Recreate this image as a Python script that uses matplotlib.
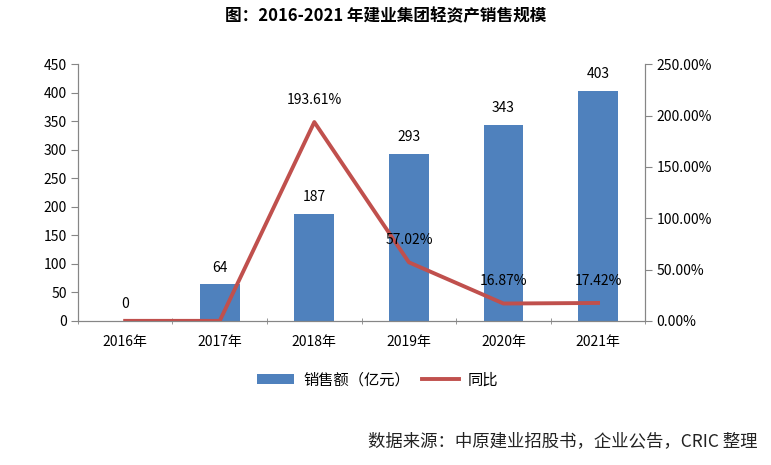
import matplotlib
matplotlib.use("Agg")
import matplotlib.pyplot as plt
from matplotlib.ticker import FixedLocator, FuncFormatter

plt.rcParams['font.family'] = ['Noto Sans CJK SC', 'DejaVu Sans']

# data
years = ["2016年", "2017年", "2018年", "2019年", "2020年", "2021年"]
sales = [0, 64, 187, 293, 343, 403]            # 亿元
yoy = [0.0, 0.0, 193.61, 57.02, 16.87, 17.42]   # %

BAR_COLOR = "#4F81BD"
LINE_COLOR = "#C0504D"
AXIS_COLOR = "#868686"

fig = plt.figure(figsize=(7.71, 4.65), dpi=100)
ax = fig.add_axes([0.101, 0.310, 0.736, 0.552])
ax2 = ax.twinx()

x = list(range(len(years)))
bars = ax.bar(x, sales, width=0.42, color=BAR_COLOR, label="销售额（亿元）", zorder=2)
line, = ax2.plot(x, yoy, color=LINE_COLOR, lw=2.8, label="同比", zorder=3)

# labels
for xi, v in zip(x, sales):
    ax.annotate(f"{v}", (xi, v), xytext=(0, 7), textcoords="offset points",
                ha="center", va="bottom", fontsize=10)
for xi, v in zip(x[2:], yoy[2:]):
    ax2.annotate(f"{v:.2f}%", (xi, v), xytext=(0, 11), textcoords="offset points",
                 ha="center", va="bottom", fontsize=10)

# axes
ax.set_xlim(-0.5, len(years) - 0.5)
ax.set_ylim(0, 450)
ax.set_yticks(range(0, 451, 50))
ax2.set_ylim(0, 250)
ax2.set_yticks(range(0, 251, 50))
ax2.yaxis.set_major_formatter(FuncFormatter(lambda v, p: f"{v:.2f}%"))

ax.set_xticks(x)
ax.set_xticklabels(years)
ax.xaxis.set_minor_locator(FixedLocator([i - 0.5 for i in range(len(years) + 1)]))
ax.tick_params(axis="x", which="major", length=0, pad=10, labelsize=10)
ax.tick_params(axis="x", which="minor", length=4, direction="inout", color=AXIS_COLOR)
ax.tick_params(axis="y", length=5, color=AXIS_COLOR, labelsize=10, pad=3)
ax2.tick_params(axis="y", length=5, color=AXIS_COLOR, labelsize=10, pad=3)

for a in (ax, ax2):
    a.spines["top"].set_visible(False)
    for s in ("left", "right", "bottom"):
        a.spines[s].set_color(AXIS_COLOR)
ax.set_zorder(ax2.get_zorder() - 1)
ax2.patch.set_visible(False)
ax.patch.set_visible(False)

fig.legend([bars, line], ["销售额（亿元）", "同比"], loc="center",
           bbox_to_anchor=(0.49, 0.183), ncol=2, frameon=False, fontsize=11,
           handlelength=2.4, handleheight=0.7, handletextpad=0.6, columnspacing=0.8)

fig.text(0.5, 0.965, "图：2016-2021 年建业集团轻资产销售规模", ha="center", va="center",
         fontsize=12, fontweight="bold")
fig.text(0.982, 0.052, "数据来源：中原建业招股书，企业公告，CRIC 整理", ha="right", va="center",
         fontsize=12.5, color="#222222")

fig.savefig("out.png", dpi=100)
